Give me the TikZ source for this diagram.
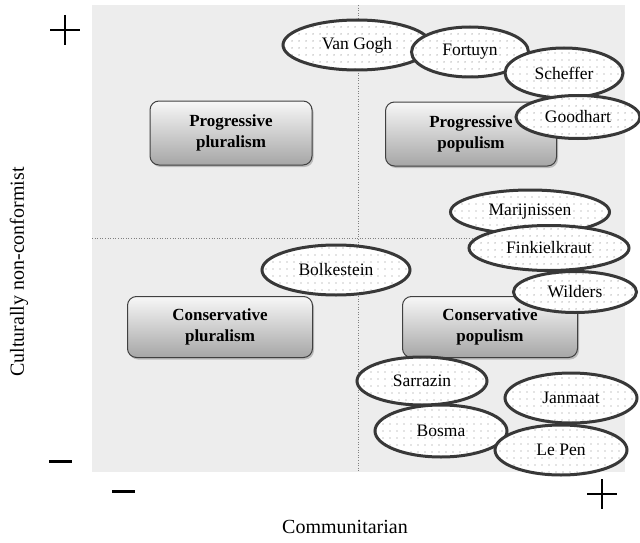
\documentclass[tikz,border=0pt]{standalone}
\usepackage{fontspec}
\setmainfont{Liberation Serif}
\usetikzlibrary{shapes.geometric,shadows,patterns.meta}
\tikzset{
  quad/.style={rounded corners=9pt, draw=black!75, line width=1pt,
    top color=gray!6, bottom color=gray!70, minimum width=#1, minimum height=64pt,
    align=center, inner sep=0pt,
    font=\fontsize{17}{21.5}\selectfont\bfseries,
    drop shadow={opacity=0.45, shadow xshift=1.5pt, shadow yshift=-2pt}},
  person/.style={ellipse, draw=black!78, line width=3pt, inner sep=0pt,
    preaction={fill=white},
    pattern={Dots[distance=6.5pt, radius=0.7pt]}, pattern color=gray!90,
    font=\fontsize{17.5}{20}\selectfont},
  sign/.style={line width=#1, black},
  axislbl/.style={font=\fontsize{20}{24}\selectfont}
}
\begin{document}
\begin{tikzpicture}[x=1pt,y=-1pt]
\useasboundingbox (0,0) rectangle (640,543);
% background plot area
\fill[gray!14] (92,5) rectangle (625,472);
\draw[gray, dotted, line width=0.6pt] (358,5) -- (358,472);
\draw[gray, dotted, line width=0.6pt] (92,238) -- (625,238);
% quadrant boxes
\node[quad=162pt] (pp) at (231,133) {Progressive\\pluralism};
\node[quad=171pt] (ppop) at (471,134) {Progressive\\populism};
\node[quad=185pt, minimum height=61pt] (cp) at (220,327) {Conservative\\pluralism};
\node[quad=175pt, minimum height=61pt] (cpop) at (490,327) {Conservative\\populism};
% persons
\node[person, minimum width=148pt, minimum height=50pt] (vangogh) at (357,45) {Van Gogh};
\node[person, minimum width=117pt, minimum height=50pt] (fortuyn) at (470,52) {Fortuyn};
\node[person, minimum width=118pt, minimum height=50pt] (scheffer) at (564,73) {Scheffer};
\node[person, minimum width=124pt, minimum height=43pt] (goodhart) at (578,117) {Goodhart};
\node[person, minimum width=159pt, minimum height=44pt] (marijnissen) at (530,212) {Marijnissen};
\node[person, minimum width=160pt, minimum height=45pt] (finkielkraut) at (549,248) {Finkielkraut};
\node[person, minimum width=123pt, minimum height=41pt] (wilders) at (575,292) {Wilders};
\node[person, minimum width=148pt, minimum height=50pt] (bolkestein) at (336,270) {Bolkestein};
\node[person, minimum width=130pt, minimum height=48pt] (sarrazin) at (422,381) {Sarrazin};
\node[person, minimum width=132pt, minimum height=50pt] (janmaat) at (571,398) {Janmaat};
\node[person, minimum width=132pt, minimum height=52pt] (bosma) at (441,431) {Bosma};
\node[person, minimum width=132pt, minimum height=50pt] (lepen) at (561,450) {Le Pen};
% signs
\draw[sign=1.6pt] (50,30) -- (80,30) (65,15) -- (65,45);
\draw[sign=1.6pt] (587,494) -- (617,494) (602,479) -- (602,509);
\draw[sign=3pt] (49,461) -- (72,461);
\draw[sign=3pt] (112,491) -- (135,491);
% axis labels
\node[axislbl] (xlab) at (345,527) {Communitarian};
\node[axislbl, rotate=90] (ylab) at (19,272) {Culturally non-conformist};
\end{tikzpicture}
\end{document}
